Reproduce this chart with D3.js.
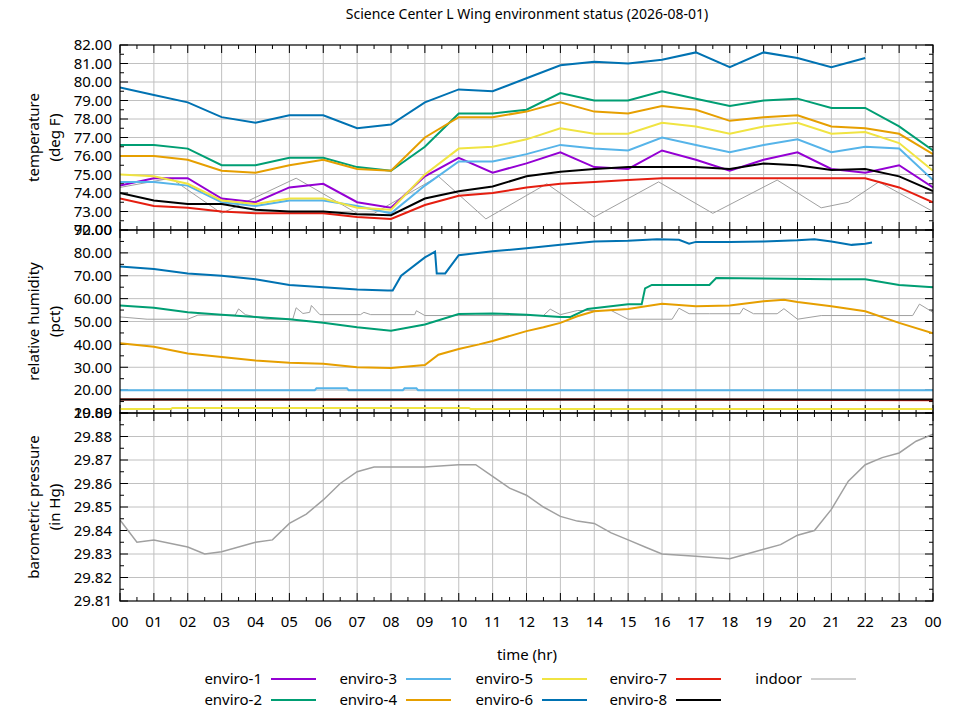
<!DOCTYPE html>
<html lang="en">
<head>
<meta charset="UTF-8">
<title>Science Center L Wing environment status</title>
<script src="https://d3js.org/d3.v7.min.js"></script>
<style>
  body { margin: 0; background: #fff; }
  svg { font-family: "Noto Sans", "Open Sans", sans-serif; }
  .tick-label { font-size: 15px; fill: #000; }
</style>
</head>
<body>
<div id="chart"></div>
<script>
// hourly readings, 00..24
const hours = d3.range(0, 25);

const seriesNames = ["enviro-1","enviro-2","enviro-3","enviro-4","enviro-5","enviro-6","enviro-7","enviro-8","indoor"];
const seriesColors = ["#9400d3","#009e73","#56b4e9","#e69f00","#f0e442","#0072b2","#e51e10","#000000","#a0a0a0"];

// temperature (deg F)
const temp1 = [74.4,74.8,74.8,73.7,73.5,74.3,74.5,73.5,73.2,74.9,75.9,75.1,75.6,76.2,75.4,75.3,76.3,75.8,75.2,75.8,76.2,75.3,75.1,75.5,74.3];
const temp2 = [76.6,76.6,76.4,75.5,75.5,75.9,75.9,75.4,75.2,76.5,78.3,78.3,78.5,79.4,79.0,79.0,79.5,79.1,78.7,79.0,79.1,78.6,78.6,77.6,76.3];
const temp3 = [74.6,74.6,74.4,73.5,73.3,73.6,73.6,73.3,72.9,74.4,75.7,75.7,76.1,76.6,76.4,76.3,77.0,76.6,76.2,76.6,76.9,76.2,76.5,76.4,74.7];
const temp4 = [76.0,76.0,75.8,75.2,75.1,75.5,75.8,75.3,75.2,77.0,78.1,78.1,78.4,78.9,78.4,78.3,78.7,78.5,77.9,78.1,78.2,77.6,77.5,77.2,76.1];
const temp5 = [75.0,74.9,74.5,73.6,73.4,73.7,73.7,73.2,73.1,75.0,76.4,76.5,76.9,77.5,77.2,77.2,77.8,77.6,77.2,77.6,77.8,77.2,77.3,76.7,75.2];
const temp6 = [79.7,79.3,78.9,78.1,77.8,78.2,78.2,77.5,77.7,78.9,79.6,79.5,80.2,80.9,81.1,81.0,81.2,81.6,80.8,81.6,81.3,80.8,81.3,null,null];
const temp7 = [73.7,73.3,73.2,73.0,72.9,72.9,72.9,72.7,72.6,73.35,73.85,74.0,74.3,74.5,74.6,74.7,74.8,74.8,74.8,74.8,74.8,74.8,74.8,74.3,73.5];
const temp8 = [74.0,73.6,73.4,73.4,73.1,73.0,73.0,72.85,72.8,73.7,74.1,74.35,74.9,75.15,75.3,75.4,75.4,75.4,75.3,75.6,75.5,75.25,75.3,74.9,74.1];
const tempIndoorT = [0,1.5,3,5.2,7.0,7.5,9.4,10.8,12.6,14,15.9,17.5,19.4,20.7,21.5,22.4,24];
const tempIndoorV = [74.3,74.8,72.9,74.8,72.9,72.9,74.9,72.6,74.5,72.7,74.6,72.9,74.7,73.2,73.5,74.6,73.0];

// relative humidity (pct)
const hum1T = [], hum1V = [];
const hum2T = [0,1,2,3,4,5,6,7,8,9,10,11,12,13,13.3,13.8,15,15.4,15.5,15.7,17.4,17.6,21,22,23,24];
const hum2V = [57,56,54,53,52,51,49.5,47.5,46,48.7,53.3,53.5,53,52,52,55.5,57.5,57.5,64.5,66,66,69,68.5,68.5,66,65];
const hum3T = [0,5.75,5.8,6.7,6.75,8.35,8.4,8.75,8.8,24];
const hum3V = [20,20,20.8,20.8,20,20,20.8,20.8,20,20];
const hum4T = [0,1,2,3,4,5,6,7,8,9,9.4,10,10.6,11,12,12.5,13,13.5,14,15,16,17,18,19,19.6,20,21,22,23,24];
const hum4V = [40.5,39,36,34.5,33,32,31.5,30,29.7,31,35.5,38,40,41.5,45.8,47.5,49.4,52.3,54.5,55.5,57.8,56.7,57,58.8,59.5,58.5,56.7,54.5,49.4,44.8];
const hum5T = [0,1.5,1.55,10.3,10.35,24];
const hum5V = [11.7,11.7,12.2,12.2,11.7,11.7];
const hum6T = [0,1,2,3,4,5,6,7,7.9,8.05,8.3,9,9.3,9.35,9.6,10,11,12,13,14,15,15.85,16.5,16.8,17,18,19,20,20.5,21,21.6,22,22.2];
const hum6V = [74,73,71,70,68.5,66,65,64,63.5,63.5,70,78,80.5,71,71,79,80.7,82,83.5,85,85.3,86,85.7,84,84.8,84.8,85,85.5,86,85,83.5,84,84.5];
const hum7T = [0,14.5,24];
const hum7V = [15.9,15.9,15.6];
const hum8T = [0,24];
const hum8V = [15.9,15.9];
const humIndoorT = [0,0.8,2,2.3,3.4,3.5,3.7,4.3,5.1,5.2,5.4,5.6,5.65,5.9,7.1,7.2,7.4,8.7,8.75,9.0,11.5,12.5,12.7,13.0,13.5,14.5,15.0,15.5,16.3,16.5,16.8,17.4,18.3,18.4,18.7,19.4,19.6,20.0,20.7,23.4,23.6,24];
const humIndoorV = [52,51,51,52.8,52.8,55.5,53,51,51,56,53.5,54,57,53,53,54,53,53,54.7,52.6,52.6,52.6,55.4,53,54.8,54.8,51,51,51,55.8,53.4,53.4,53.4,55.8,53.4,53.4,55.6,51,52.6,52.6,57.6,54];

// barometric pressure (in Hg), indoor
const presT = [0,0.5,1,2,2.5,3,4,4.5,5,5.5,6,6.5,7,7.5,8,9,10,10.5,11,11.5,12,12.5,13,13.5,14,14.5,15,15.5,16,17,18,18.5,19,19.5,20,20.5,21,21.5,22,22.5,23,23.5,24];
const presV = [29.8445,29.835,29.836,29.833,29.830,29.831,29.835,29.836,29.843,29.847,29.853,29.860,29.865,29.867,29.867,29.867,29.868,29.868,29.863,29.858,29.855,29.850,29.846,29.844,29.843,29.839,29.836,29.833,29.830,29.829,29.828,29.830,29.832,29.834,29.838,29.840,29.849,29.861,29.868,29.871,29.873,29.878,29.881];

const xTicks = d3.range(0, 25);
const tempTicks = d3.range(72, 83);
const humTicks = d3.range(10, 91, 10);
const presTicks = [29.81,29.82,29.83,29.84,29.85,29.86,29.87,29.88,29.89];

const W = 960, H = 720;
const left = 120, right = 933;
const svg = d3.select("#chart").append("svg").attr("width", W).attr("height", H);

const x = d3.scaleLinear().domain([0, 24]).range([left, right]);

const panels = [
  { top: 45, bottom: 230, domain: [72, 82], ticks: tempTicks, minor: 0.5, title: ["temperature", "(deg F)"] },
  { top: 230, bottom: 413, domain: [10, 90], ticks: humTicks, minor: 5, title: ["relative humidity", "(pct)"] },
  { top: 413, bottom: 601, domain: [29.81, 29.89], ticks: presTicks, minor: 0.005, title: ["barometric pressure", "(in Hg)"] }
];
panels.forEach(p => { p.y = d3.scaleLinear().domain(p.domain).range([p.bottom, p.top]); });

// title
svg.append("text").attr("x", 527).attr("y", 19).attr("text-anchor", "middle")
  .style("font-size", "14px").text("Science Center L Wing environment status (2026-08-01)");

const pairs = (T, V) => T.map((t, i) => [t, V[i]]);
const lineFor = p => d3.line().defined(d => d[1] != null).x(d => x(d[0])).y(d => p.y(d[1]));

panels.forEach((p, pi) => {
  const g = svg.append("g");
  const clipId = "clip" + pi;
  svg.append("clipPath").attr("id", clipId).append("rect")
    .attr("x", left).attr("y", p.top).attr("width", right - left).attr("height", p.bottom - p.top);

  // grid
  g.selectAll(".vg").data(xTicks.slice(1, -1)).join("line")
    .attr("x1", d => x(d)).attr("x2", d => x(d)).attr("y1", p.top).attr("y2", p.bottom)
    .attr("stroke", "#c0c0c0").attr("stroke-width", 1);
  g.selectAll(".hg").data(p.ticks.slice(1, -1)).join("line")
    .attr("x1", left).attr("x2", right).attr("y1", d => p.y(d)).attr("y2", d => p.y(d))
    .attr("stroke", "#c0c0c0").attr("stroke-width", 1);

  // ticks (major + minor) on all sides
  const minorX = d3.range(0.5, 24, 1);
  const tk = g.append("g").attr("stroke", "#000").attr("stroke-width", 1);
  xTicks.forEach(h => {
    tk.append("line").attr("x1", x(h)).attr("x2", x(h)).attr("y1", p.bottom).attr("y2", p.bottom - 8);
    tk.append("line").attr("x1", x(h)).attr("x2", x(h)).attr("y1", p.top).attr("y2", p.top + 8);
  });
  minorX.forEach(h => {
    tk.append("line").attr("x1", x(h)).attr("x2", x(h)).attr("y1", p.bottom).attr("y2", p.bottom - 4);
    tk.append("line").attr("x1", x(h)).attr("x2", x(h)).attr("y1", p.top).attr("y2", p.top + 4);
  });
  p.ticks.forEach(v => {
    tk.append("line").attr("x1", left).attr("x2", left + 8).attr("y1", p.y(v)).attr("y2", p.y(v));
    tk.append("line").attr("x1", right).attr("x2", right - 8).attr("y1", p.y(v)).attr("y2", p.y(v));
    const m = v + p.minor;
    if (m < p.domain[1]) {
      tk.append("line").attr("x1", left).attr("x2", left + 4).attr("y1", p.y(m)).attr("y2", p.y(m));
      tk.append("line").attr("x1", right).attr("x2", right - 4).attr("y1", p.y(m)).attr("y2", p.y(m));
    }
  });

  // y tick labels
  g.selectAll(".yl").data(p.ticks).join("text")
    .attr("class", "tick-label").attr("x", 112).attr("y", d => p.y(d)).attr("dy", "0.35em")
    .attr("text-anchor", "end").text(d => d3.format(".2f")(d));

  // axis title (two lines, rotated)
  const cy = (p.top + p.bottom) / 2;
  p.title.forEach((t, i) => {
    svg.append("text").attr("transform", `translate(${39 + i * 21},${cy}) rotate(-90)`)
      .attr("text-anchor", "middle").style("font-size", "15px").text(t);
  });

  p.plot = svg.append("g").attr("clip-path", `url(#${clipId})`);
});

// temperature lines
const tp = panels[0];
const tempSeries = [temp1, temp2, temp3, temp4, temp5, temp6, temp7, temp8];
tp.plot.append("path").datum(pairs(tempIndoorT, tempIndoorV))
  .attr("d", lineFor(tp)).attr("fill", "none").attr("stroke", seriesColors[8]).attr("stroke-width", 1);
tempSeries.forEach((s, i) => {
  tp.plot.append("path").datum(pairs(hours, s))
    .attr("d", lineFor(tp)).attr("fill", "none")
    .attr("stroke", seriesColors[i]).attr("stroke-width", 2);
});

// humidity lines
const hp = panels[1];
const humSeries = [[hum1T, hum1V], [hum2T, hum2V], [hum3T, hum3V], [hum4T, hum4V], [hum5T, hum5V], [hum6T, hum6V], [hum7T, hum7V], [hum8T, hum8V]];
hp.plot.append("path").datum(pairs(humIndoorT, humIndoorV))
  .attr("d", lineFor(hp)).attr("fill", "none").attr("stroke", seriesColors[8]).attr("stroke-width", 1);
humSeries.forEach(([T, V], i) => {
  if (!T.length) return;
  hp.plot.append("path").datum(pairs(T, V))
    .attr("d", lineFor(hp)).attr("fill", "none")
    .attr("stroke", seriesColors[i]).attr("stroke-width", 2);
});

// pressure line
const pp = panels[2];
pp.plot.append("path").datum(pairs(presT, presV))
  .attr("d", lineFor(pp)).attr("fill", "none").attr("stroke", seriesColors[8]).attr("stroke-width", 1.5);

// panel frames
panels.forEach(p => {
  svg.append("rect").attr("x", left).attr("y", p.top).attr("width", right - left).attr("height", p.bottom - p.top)
    .attr("fill", "none").attr("stroke", "#000").attr("stroke-width", 1.2);
});

// x tick labels
svg.selectAll(".xl").data(xTicks).join("text")
  .attr("class", "tick-label").attr("x", d => x(d)).attr("y", 627).attr("text-anchor", "middle")
  .text(d => d3.format("02d")(d % 24));
svg.append("text").attr("x", 527).attr("y", 660).attr("text-anchor", "middle")
  .style("font-size", "15px").text("time (hr)");

// legend: columns of two rows
const legendX = [262, 397, 533, 667, 802];
seriesNames.forEach((n, i) => {
  const col = Math.floor(i / 2), row = i % 2;
  const lx = legendX[col], ly = 679 + row * 21;
  svg.append("text").attr("x", lx).attr("y", ly).attr("dy", "0.35em").attr("text-anchor", "end")
    .style("font-size", "15px").text(n);
  svg.append("line").attr("x1", lx + 9).attr("x2", lx + 54).attr("y1", ly).attr("y2", ly)
    .attr("stroke", seriesColors[i]).attr("stroke-width", n === "indoor" ? 1 : 2);
});
</script>
</body>
</html>
